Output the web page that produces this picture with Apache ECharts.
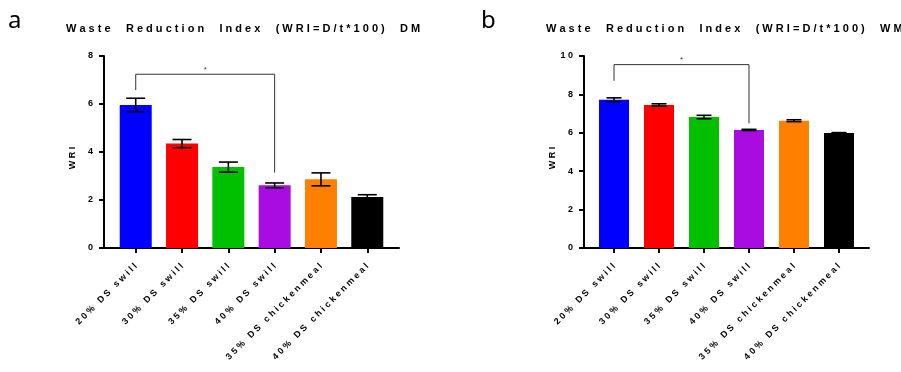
<!DOCTYPE html>
<html><head><meta charset="utf-8">
<script src="https://cdn.jsdelivr.net/npm/echarts@6/dist/echarts.min.js"></script>
<style>html,body{margin:0;padding:0;background:#fff}#c{width:901px;height:372px}</style>
</head><body><div id="c"></div>
<script>
// ---- data ----
const categories = ['20% DS swill','30% DS swill','35% DS swill','40% DS swill','35% DS chickenmeal','40% DS chickenmeal'];
const barColors = ['#0000FF','#FF0000','#00C000','#A80CE0','#FF8000','#000000'];
const wriDM = [5.96, 4.35, 3.37, 2.61, 2.86, 2.13];
const semDM = [0.28, 0.17, 0.21, 0.10, 0.27, 0.09];
const wriWM = [7.72, 7.45, 6.82, 6.15, 6.63, 5.99];
const semWM = [0.10, 0.06, 0.09, 0.03, 0.05, 0.02];
const yMaxDM = 8, yMaxWM = 10, yStep = 2;
const bracketDM = [[0, 6.58], [0, 7.24], [3, 7.24], [3, 3.14]];
const bracketWM = [[0, 8.71], [0, 9.55], [3, 9.55], [3, 6.49]];
const starDM = [[1.5, 7.24]];
const starWM = [[1.5, 9.55]];
const titleDM = 'Waste Reduction Index (WRI=D/t*100) DM';
const titleWM = 'Waste Reduction Index (WRI=D/t*100) WM';
const yName = 'WRI';
const panelLetters = ['a', 'b'];

// ---- helpers ----
const FONT = 'Liberation Sans, Arial, sans-serif';
function spaced(s, ws) {
  return String(s).split(' ').map(w => w.split('').join(' ')).join(ws || '    ');
}
const idx = categories.map((_, i) => i);

function makeAxes(gi, yMax, xMin, xMax) {
  const x = {
    type: 'value', gridIndex: gi, min: xMin, max: xMax,
    splitLine: { show: false },
    axisLine: { show: true, onZero: false, lineStyle: { color: '#000', width: 2 } },
    axisTick: { show: true, customValues: idx, length: 5, lineStyle: { color: '#000', width: 2 } },
    axisLabel: {
      show: true, customValues: idx, rotate: 45, margin: 17,
      fontSize: 9, fontWeight: 'bold', color: '#000', fontFamily: FONT,
      formatter: v => spaced(categories[Math.round(v)], '   ')
    }
  };
  const y = {
    type: 'value', gridIndex: gi, min: 0, max: yMax, interval: yStep,
    name: spaced(yName), nameLocation: 'middle', nameGap: 27,
    nameTextStyle: { fontSize: 9, fontWeight: 'bold', color: '#000', fontFamily: FONT, padding: [0, 12, 0, 0] },
    splitLine: { show: false },
    axisLine: { show: true, onZero: false, lineStyle: { color: '#000', width: 2 } },
    axisTick: { show: true, length: 5, lineStyle: { color: '#000', width: 2 } },
    axisLabel: { margin: 11, fontSize: 9, fontWeight: 'bold', color: '#000', fontFamily: FONT,
      formatter: v => spaced(v) }
  };
  return [x, y];
}

function makeSeries(gi, vals, sems, bracket, star, barW, capHalf) {
  return [
    {
      type: 'bar', xAxisIndex: gi, yAxisIndex: gi, barWidth: barW,
      data: vals.map((v, i) => ({ value: [i, v], itemStyle: { color: barColors[i] } })),
      z: 2
    },
    {
      type: 'custom', xAxisIndex: gi, yAxisIndex: gi, z: 5,
      data: vals.map((v, i) => [i, v, sems[i]]),
      encode: { x: 0, y: 1 },
      renderItem: function (params, api) {
        const x = api.value(0), m = api.value(1), e = api.value(2);
        const top = api.coord([x, m + e]);
        const bot = api.coord([x, m - e]);
        const st = { stroke: '#000', lineWidth: 1.6 };
        return {
          type: 'group', children: [
            { type: 'line', shape: { x1: top[0], y1: top[1], x2: bot[0], y2: bot[1] }, style: st },
            { type: 'line', shape: { x1: top[0] - capHalf, y1: top[1], x2: top[0] + capHalf, y2: top[1] }, style: st },
            { type: 'line', shape: { x1: bot[0] - capHalf, y1: bot[1], x2: bot[0] + capHalf, y2: bot[1] }, style: st }
          ]
        };
      }
    },
    {
      type: 'line', xAxisIndex: gi, yAxisIndex: gi, data: bracket, symbol: 'none',
      lineStyle: { color: '#333', width: 1 }, z: 4
    },
    {
      type: 'scatter', xAxisIndex: gi, yAxisIndex: gi, data: star, symbolSize: 1,
      itemStyle: { color: 'rgba(0,0,0,0)' },
      label: { show: true, formatter: '*', position: 'top', distance: 0, fontSize: 8, color: '#000', fontFamily: FONT }
    }
  ];
}

const axesA = makeAxes(0, yMaxDM, -0.685, 5.685);
const axesB = makeAxes(1, yMaxWM, -0.667, 5.667);

const titleStyle = { fontSize: 11, fontWeight: 'bold', color: '#000', fontFamily: FONT };
const letterStyle = { fontSize: 24, fontWeight: 'normal', color: '#000', fontFamily: 'Noto Sans, sans-serif' };

const chart = echarts.init(document.getElementById('c'), null, { renderer: 'canvas' });
chart.setOption({
  animation: false,
  backgroundColor: '#fff',
  title: [
    { text: panelLetters[0], left: 8, top: 9, padding: 0, textStyle: letterStyle },
    { text: panelLetters[1], left: 481, top: 9, padding: 0, textStyle: letterStyle },
    { text: spaced(titleDM, '     '), left: 66, top: 23, padding: 0, textStyle: titleStyle },
    { text: spaced(titleWM, '     '), left: 546, top: 23, padding: 0, textStyle: titleStyle }
  ],
  grid: [
    { left: 104, top: 56, width: 295, height: 192, containLabel: false },
    { left: 584, top: 56, width: 285, height: 192, containLabel: false }
  ],
  xAxis: [axesA[0], axesB[0]],
  yAxis: [axesA[1], axesB[1]],
  series: [].concat(
    makeSeries(0, wriDM, semDM, bracketDM, starDM, 32, 9.5),
    makeSeries(1, wriWM, semWM, bracketWM, starWM, 30, 7.5)
  )
});
</script>
</body></html>
